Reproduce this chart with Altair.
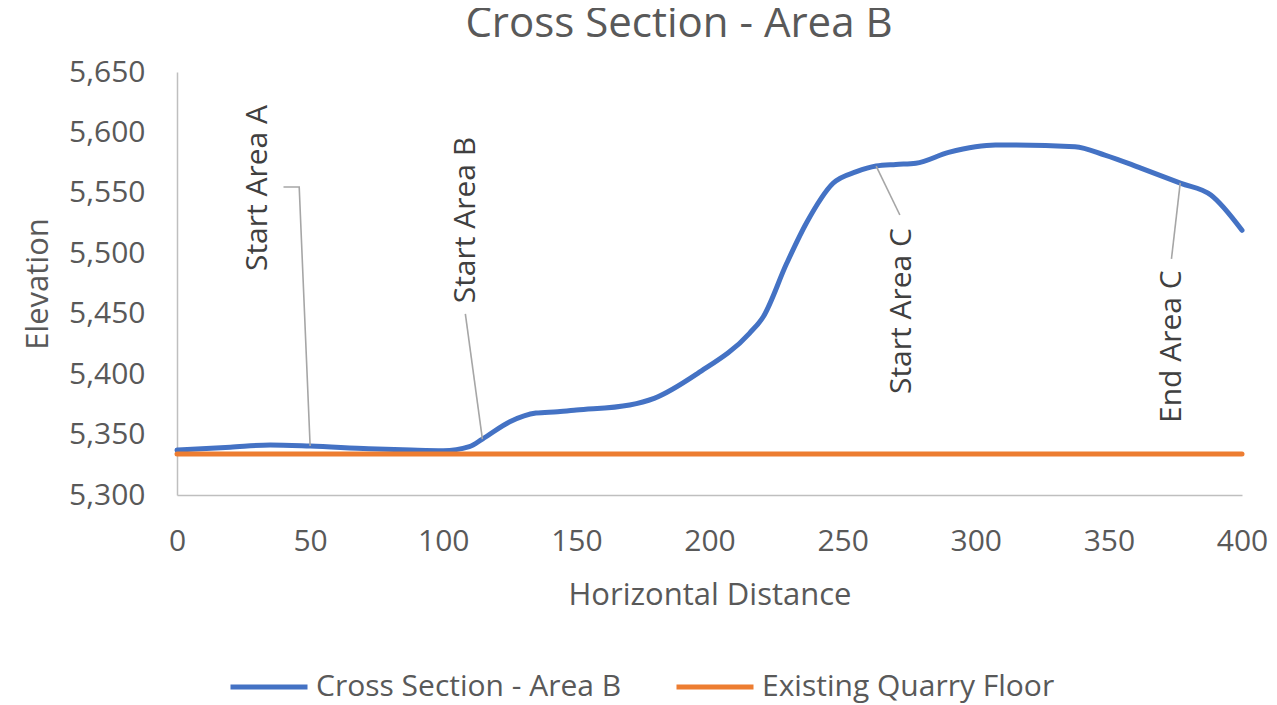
import altair as alt
import pandas as pd

# ---- data ----
chart_title = "Cross Section - Area B"

dist = [0, 20, 35, 50, 72, 88, 100, 109.8, 114.7, 125, 134.8, 143, 150, 170, 179.2,
        195.6, 215.1, 220.2, 229, 236.4, 246.4, 255.2, 262.6, 270, 277.5, 289.8,
        299.9, 307.4, 314.8, 337.3, 348.5, 362, 377.1, 388.3, 400]
elev = [5337.2, 5339.5, 5341.4, 5340.5, 5338.3, 5337.2, 5336.7, 5340, 5346.3, 5360.6,
        5367.8, 5368.9, 5370.3, 5374.5, 5380, 5400.7, 5434, 5447.5, 5491.7, 5525,
        5557.9, 5567.5, 5572.2, 5573.5, 5574.5, 5583.5, 5588.2, 5589.6, 5589.6, 5588.2,
        5581.3, 5570.5, 5557.9, 5548.2, 5519]

floor_dist = [0, 400]
floor_elev = [5334, 5334]

series_names = ["Cross Section - Area B", "Existing Quarry Floor"]
series_colors = ["#4472C4", "#ED7D31"]

x_ticks = [0, 50, 100, 150, 200, 250, 300, 350, 400]
y_ticks = [5300, 5350, 5400, 5450, 5500, 5550, 5600, 5650]

ann_labels = ["Start Area A", "Start Area B", "Start Area C", "End Area C"]
ann_text_x = [30.3, 108.7, 272.3, 373.6]
ann_text_y = [5554.0, 5527.5, 5452.2, 5422.7]

leader_label = ["Start Area A"] * 3 + ["Start Area B"] * 2 + ["Start Area C"] * 2 + ["End Area C"] * 2
leader_x = [40.0, 45.9, 50.0, 108.3, 114.7, 271.5, 262.6, 373.5, 376.8]
leader_y = [5554.8, 5554.8, 5340.5, 5449.8, 5346.3, 5531.7, 5572.2, 5495.3, 5558.2]
leader_seq = [0, 1, 2, 0, 1, 0, 1, 0, 1]

FONT = "Open Sans"
TXT = "#595959"

df_lines = pd.concat([
    pd.DataFrame({"x": dist, "y": elev, "series": series_names[0], "o": list(range(len(dist)))}),
    pd.DataFrame({"x": floor_dist, "y": floor_elev, "series": series_names[1], "o": [0, 1]}),
], ignore_index=True)

df_lead = pd.DataFrame({"label": leader_label, "x": leader_x, "y": leader_y, "o": leader_seq})
df_ann = pd.DataFrame({"label": ann_labels, "x": ann_text_x, "y": ann_text_y})
df_title = pd.DataFrame({"t": [chart_title]})

x_scale = alt.Scale(domain=[0, 400], nice=False, zero=False)
y_scale = alt.Scale(domain=[5300, 5650], nice=False, zero=False)

x_enc = alt.X("x:Q", scale=x_scale,
              axis=alt.Axis(title="Horizontal Distance", values=x_ticks, labelFlush=False,
                            labelOverlap=False, labelPadding=31, titlePadding=24, format="d"))
y_enc = alt.Y("y:Q", scale=y_scale,
              axis=alt.Axis(title="Elevation", values=y_ticks, format=",.0f", labelPadding=32,
                            titlePadding=14, labelOverlap=False))

lines = alt.Chart(df_lines).mark_line(strokeWidth=5, interpolate="monotone", strokeCap="round").encode(
    x=x_enc,
    y=y_enc,
    color=alt.Color("series:N", sort=series_names,
                    scale=alt.Scale(domain=series_names, range=series_colors),
                    legend=alt.Legend(title=None, orient="none", legendX=51, legendY=574,
                                      direction="horizontal", symbolType="stroke",
                                      symbolSize=5929, symbolStrokeWidth=5,
                                      labelFont=FONT, labelFontSize=30, labelColor=TXT,
                                      labelOffset=6, labelLimit=500, columnPadding=44,
                                      padding=0)),
    order="o:Q",
)

leaders = alt.Chart(df_lead).mark_line(strokeWidth=1.6, color="#A6A6A6").encode(
    x=alt.X("x:Q", scale=x_scale),
    y=alt.Y("y:Q", scale=y_scale),
    detail="label:N",
    order="o:Q",
)

labels = alt.Chart(df_ann).mark_text(angle=270, align="center", baseline="middle",
                                     font=FONT, fontSize=30, color="#404040").encode(
    x=alt.value(0) if False else alt.X("x:Q", scale=x_scale),
    y=alt.Y("y:Q", scale=y_scale),
    text="label:N",
)

title_text = alt.Chart(df_title).mark_text(align="center", baseline="alphabetic",
                                           font=FONT, fontSize=42, color=TXT).encode(
    x=alt.value(502),
    y=alt.value(-35),
    text="t:N",
)

chart = alt.layer(lines, leaders, labels, title_text).properties(
    width=1065,
    height=423,
    autosize=alt.AutoSizeParams(type="none"),
    padding={"left": 169, "top": 64, "right": 27, "bottom": 209},
    background="white",
).configure_view(stroke=None).configure_axis(
    grid=False, ticks=False, tickSize=0, domainColor="#BFBFBF", domainWidth=1.5,
    labelFont=FONT, labelFontSize=30, labelColor=TXT,
    titleFont=FONT, titleFontSize=31, titleFontWeight="normal", titleColor=TXT,
)

chart.save("out.html", embed_options={"renderer": "svg", "actions": False})
